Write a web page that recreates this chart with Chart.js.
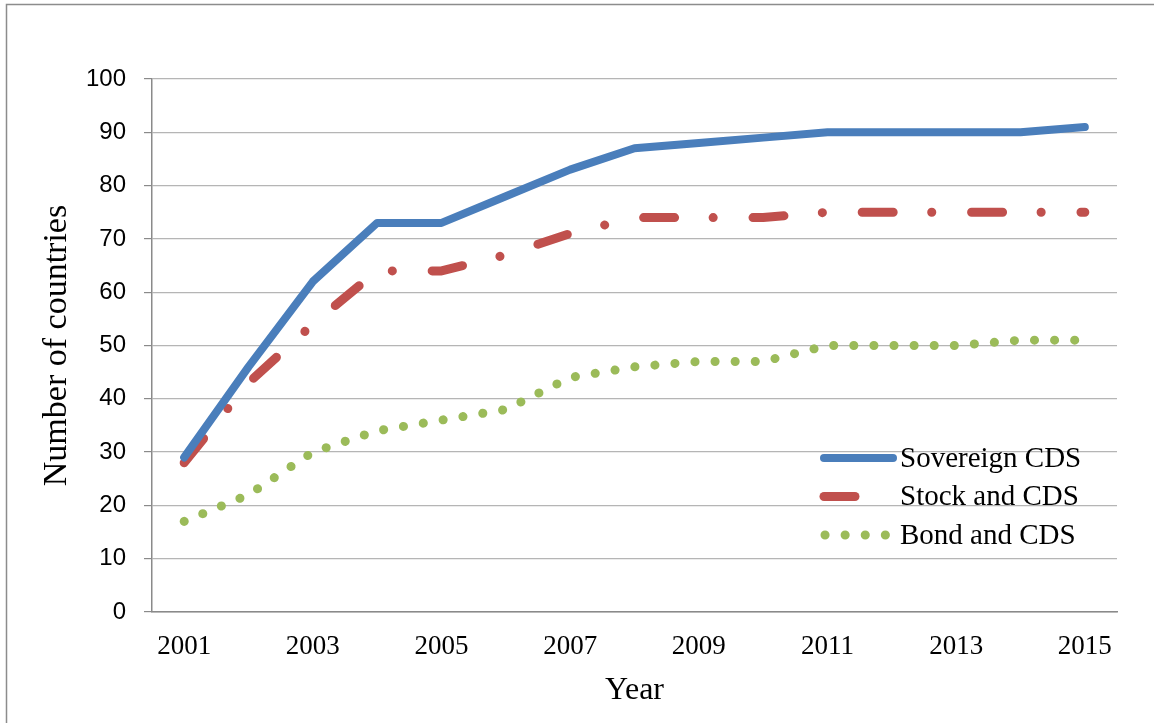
<!DOCTYPE html>
<html>
<head>
<meta charset="utf-8">
<script src="https://cdn.jsdelivr.net/npm/chart.js@4/dist/chart.umd.min.js"></script>
<style>
  html, body { margin: 0; padding: 0; background: #fff; }
  #wrap { position: relative; width: 1154px; height: 723px; }
</style>
</head>
<body>
<div id="wrap"><canvas id="grafico"></canvas></div>
<script>
const years = ["2001", "2002", "2003", "2004", "2005", "2006", "2007", "2008",
               "2009", "2010", "2011", "2012", "2013", "2014", "2015"];
const tickLabels = ["2001", "", "2003", "", "2005", "", "2007", "",
                    "2009", "", "2011", "", "2013", "", "2015"];
const sovereignCDS = [29, 46, 62, 73, 73, 78, 83, 87, 88, 89, 90, 90, 90, 90, 91];
const stockAndCDS = [28, 43, 54, 64, 64, 67, 71, 74, 74, 74, 75, 75, 75, 75, 75];
const bondAndCDS = [17, 22, 30, 34, 36, 38, 44, 46, 47, 47, 50, 50, 50, 51, 51];

const serif = "'Liberation Serif', 'Times New Roman', serif";
const sans = "'Liberation Sans', Arial, sans-serif";

// frame round the whole chart
const framePlugin = {
    id: "frame",
    beforeDraw(chart) {
        const ctx = chart.ctx;
        ctx.save();
        ctx.strokeStyle = "#8c8c8c";
        ctx.lineWidth = 1.5;
        ctx.strokeRect(6.5, 4.5, chart.width + 20, chart.height + 20);
        ctx.restore();
    }
};

// legend inside the plot, bottom right, drawn with each dataset's own line style
const legendPlugin = {
    id: "insideLegend",
    afterDatasetsDraw(chart) {
        const ctx = chart.ctx;
        const sampleLen = [69, 31, 60.5];
        const startX = [824, 824, 825];
        chart.data.datasets.forEach((ds, i) => {
            const y = 458 + i * 38.5;
            ctx.save();
            ctx.strokeStyle = ds.borderColor;
            ctx.lineWidth = ds.borderWidth;
            ctx.lineCap = "round";
            ctx.setLineDash(i === 1 ? [] : (ds.borderDash || []));
            ctx.beginPath();
            ctx.moveTo(startX[i], y);
            ctx.lineTo(startX[i] + sampleLen[i], y);
            ctx.stroke();
            ctx.restore();
            ctx.save();
            ctx.fillStyle = "#000";
            ctx.font = "29px " + serif;
            ctx.textBaseline = "middle";
            ctx.fillText(ds.label, 900, y + 1);
            ctx.restore();
        });
    }
};

new Chart(document.getElementById("grafico"), {
    type: "line",
    data: {
        labels: years,
        datasets: [
            {
                label: "Sovereign CDS",
                data: sovereignCDS,
                borderColor: "#4a7ebb",
                borderWidth: 8,
                borderCapStyle: "round",
                borderJoinStyle: "round",
                pointRadius: 0,
                tension: 0
            },
            {
                label: "Stock and CDS",
                data: stockAndCDS,
                borderColor: "#c0504d",
                borderWidth: 9,
                borderDash: [31, 38.5, 0.1, 39.8],
                borderCapStyle: "round",
                borderJoinStyle: "round",
                pointRadius: 0,
                tension: 0
            },
            {
                label: "Bond and CDS",
                data: bondAndCDS,
                borderColor: "#9bbb59",
                borderWidth: 9,
                borderDash: [0.1, 20],
                borderCapStyle: "round",
                borderJoinStyle: "round",
                pointRadius: 0,
                tension: 0
            }
        ]
    },
    options: {
        responsive: true,
        maintainAspectRatio: false,
        animation: false,
        layout: { padding: { top: 79, right: 37, left: 0, bottom: 0 } },
        plugins: {
            legend: { display: false },
            tooltip: { enabled: false }
        },
        scales: {
            x: {
                offset: true,
                afterFit(scale) { scale.height = 111; },
                grid: { display: false, drawTicks: false },
                border: { display: true, color: "#8a8a8a", width: 1.5 },
                ticks: {
                    autoSkip: false,
                    maxRotation: 0,
                    padding: 19,
                    color: "#000",
                    font: { family: serif, size: 27 },
                    callback: (v, i) => tickLabels[i]
                },
                title: {
                    display: true,
                    text: "Year",
                    color: "#000",
                    font: { family: serif, size: 32 },
                    padding: { top: 0, bottom: 13 }
                }
            },
            y: {
                min: 0,
                max: 100,
                afterFit(scale) { scale.width = 152; },
                grid: { color: "#b5b5b5", lineWidth: 1.2, tickColor: "#8a8a8a", tickLength: 8 },
                border: { display: true, color: "#8a8a8a", width: 1.5 },
                ticks: {
                    stepSize: 10,
                    padding: 18,
                    color: "#000",
                    font: { family: sans, size: 24 }
                },
                title: {
                    display: true,
                    text: "Number of countries",
                    color: "#000",
                    font: { family: serif, size: 34 },
                    padding: { top: 37, bottom: 0 }
                }
            }
        }
    },
    plugins: [framePlugin, legendPlugin]
});
</script>
</body>
</html>
